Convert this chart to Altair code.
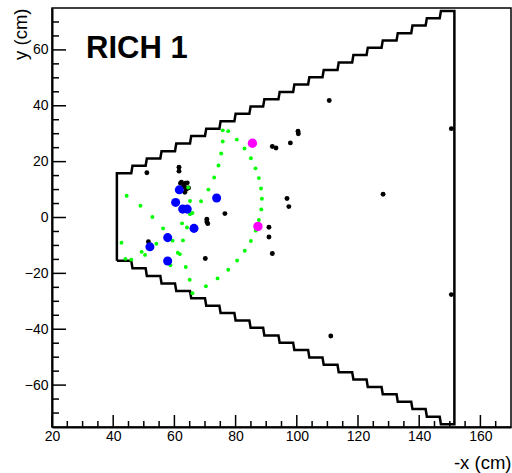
import altair as alt
import pandas as pd

# ---------------- data ----------------
X_DOMAIN = [20, 170]
Y_DOMAIN = [-75, 75]

black_x = [110.6, 100.4, 100.5, 97.9, 92.0, 93.2, 96.8, 97.4, 128.2, 150.5, 150.5, 111.1,
           90.9, 90.9, 92.0, 76.5, 70.1, 70.6, 70.9, 70.6, 51.0, 61.5, 61.5, 62.0, 63.6,
           62.6, 63.9, 61.7, 51.5, 62.3, 64.2, 63.2, 64.6, 62.0, 63.4]
black_y = [41.9, 30.9, 30.0, 26.7, 25.4, 24.9, 6.8, 3.9, 8.3, 31.8, -27.6, -42.4,
           -3.5, -7.0, -12.9, 1.4, -14.7, -0.6, -2.2, -1.5, 16.0, 18.0, 16.6, 12.3, 12.3,
           10.8, 10.1, 10.1, -8.7, 12.6, 12.4, 11.4, 10.6, 9.6, 9.0]

green_x = [75.8, 77.6, 80.4, 82.9, 85.0, 86.5, 87.6, 88.3, 88.6, 88.4, 87.6, 86.6, 85.0,
           83.0, 80.5, 77.6, 74.1, 70.3, 65.9, 75.8, 75.3, 74.4, 73.0, 71.1, 68.7, 65.1,
           64.5, 44.4, 48.9, 52.8, 56.3, 59.4, 62.8, 62.5, 64.1, 65.1, 65.9, 42.7, 44.0,
           45.9, 49.3, 50.4, 54.1, 61.1, 61.8, 58.7, 63.7, 65.0]
green_y = [31.2, 30.9, 27.9, 24.7, 21.2, 17.6, 14.1, 10.4, 6.7, 2.9, -0.9, -4.7, -8.4,
           -11.9, -15.4, -18.7, -21.8, -24.6, -27.1, 27.2, 22.9, 18.6, 14.3, 10.0, 5.8, 5.9,
           10.7, 7.8, 4.2, 0.2, -3.9, -8.3, -8.2, -2.1, -3.6, 1.2, 1.6, -9.0, -14.8,
           -15.1, -12.3, -13.4, -9.4, -12.6, -13.1, -17.1, -17.7, -22.3]

blue_x = [61.6, 60.4, 62.7, 64.2, 73.8, 66.4, 57.8, 52.0, 57.8]
blue_y = [9.9, 5.4, 3.0, 3.0, 7.0, -3.9, -7.2, -10.5, -15.6]

magenta_x = [85.5, 87.3]
magenta_y = [26.6, -3.2]

# detector outline (staircase)
step_edges_x = [41.2, 45.9, 50.6, 55.4, 60.2, 65.1, 70.0, 74.7, 79.6, 84.5, 89.0, 94.0,
                98.8, 103.7, 108.4, 113.3, 118.1, 122.8, 127.7, 132.6, 137.4, 142.1,
                146.7, 151.5]
top_levels = [15.8, 18.5, 21.1, 23.7, 26.5, 29.2, 31.8, 34.5, 37.1, 39.7, 42.3, 44.9,
              47.6, 50.2, 52.8, 55.5, 58.2, 60.8, 63.4, 66.0, 68.7, 71.3, 73.9]
bottom_levels = [-15.5, -18.2, -20.9, -23.6, -26.3, -28.9, -31.6, -34.2, -36.9, -39.5,
                 -42.2, -44.8, -47.4, -50.1, -52.7, -55.4, -58.0, -60.7, -63.3, -66.0,
                 -68.6, -71.3, -74.0]

x_major = [20, 40, 60, 80, 100, 120, 140, 160]
x_minor = [v for v in range(25, 170, 5) if v % 20 != 0]
y_major = [-60, -40, -20, 0, 20, 40, 60]
y_minor = [v for v in range(-70, 75, 5) if v % 20 != 0]

# ---------------- build tables ----------------
RISER_SLANT = 0.4
pts = [(step_edges_x[0], bottom_levels[0]), (step_edges_x[0], top_levels[0])]
for i in range(1, len(top_levels)):
    pts.append((step_edges_x[i], top_levels[i - 1]))
    pts.append((step_edges_x[i] + RISER_SLANT, top_levels[i]))
pts.append((step_edges_x[-1], top_levels[-1]))
pts.append((step_edges_x[-1], bottom_levels[-1]))
for i in range(len(bottom_levels) - 1, 0, -1):
    pts.append((step_edges_x[i] + RISER_SLANT, bottom_levels[i]))
    pts.append((step_edges_x[i], bottom_levels[i - 1]))
pts.append((step_edges_x[0], bottom_levels[0]))
outline = pd.DataFrame({"x": [p[0] for p in pts], "y": [p[1] for p in pts],
                        "o": list(range(len(pts)))})

W, H = 459, 419
FONT = "Liberation Sans"

xs = alt.Scale(domain=X_DOMAIN, nice=False, zero=False)
ys = alt.Scale(domain=Y_DOMAIN, nice=False, zero=False)

xaxis = alt.Axis(values=x_major, ticks=False, grid=False, domain=True, domainColor="black",
                 domainWidth=2, labelFont=FONT, labelFontSize=14, labelColor="black",
                 labelPadding=2, labelFlush=False, labelOverlap=False, format="d",
                 title="-x (cm)", titleFont=FONT, titleFontSize=18.5,
                 titleFontWeight="normal", titleColor="black", titleAlign="right",
                 titleBaseline="alphabetic", titleX=W, titleY=41.5)
yaxis = alt.Axis(values=y_major, ticks=False, grid=False, domain=True, domainColor="black",
                 domainWidth=2, labelFont=FONT, labelFontSize=14, labelColor="black",
                 labelPadding=4, labelFlush=False, labelOverlap=False, format="d",
                 title="y (cm)", titleFont=FONT, titleFontSize=18.5,
                 titleFontWeight="normal", titleColor="black", titleAngle=-90,
                 titleAlign="right", titleBaseline="top", titleX=-41, titleY=0)


def X(f):
    return alt.X(f, type="quantitative", scale=xs, axis=xaxis)


def Y(f):
    return alt.Y(f, type="quantitative", scale=ys, axis=yaxis)


outline_layer = alt.Chart(outline).mark_line(color="black", strokeWidth=2.5,
                                             strokeJoin="miter").encode(
    x=X("x"), y=Y("y"), order="o:Q")


def dots(xv, yv, color, size):
    return alt.Chart(pd.DataFrame({"x": xv, "y": yv})).mark_circle(
        color=color, opacity=1, size=size).encode(x=X("x"), y=Y("y"))


black_layer = dots(black_x, black_y, "black", 24)
green_layer = dots(green_x, green_y, "#00ff00", 15)
blue_layer = dots(blue_x, blue_y, "#0000ff", 82)
magenta_layer = dots(magenta_x, magenta_y, "#ff00ff", 88)

xmaj = alt.Chart(pd.DataFrame({"v": x_major})).mark_rule(color="black", strokeWidth=1.5).encode(
    x=X("v"), y=alt.value(H), y2=alt.value(H - 12))
xmin = alt.Chart(pd.DataFrame({"v": x_minor})).mark_rule(color="black", strokeWidth=1.5).encode(
    x=X("v"), y=alt.value(H), y2=alt.value(H - 6))
ymaj = alt.Chart(pd.DataFrame({"v": y_major})).mark_rule(color="black", strokeWidth=1.5).encode(
    y=Y("v"), x=alt.value(0), x2=alt.value(14))
ymin = alt.Chart(pd.DataFrame({"v": y_minor})).mark_rule(color="black", strokeWidth=1.5).encode(
    y=Y("v"), x=alt.value(0), x2=alt.value(7))

label = alt.Chart(pd.DataFrame({"t": ["RICH 1"]})).mark_text(
    font=FONT, fontSize=31, fontWeight="bold", color="black", align="left",
    baseline="alphabetic").encode(text="t:N", x=alt.value(34), y=alt.value(50))

chart = alt.layer(outline_layer, black_layer, green_layer, blue_layer, magenta_layer,
                  xmaj, xmin, ymaj, ymin, label).properties(
    width=W, height=H,
    autosize=alt.AutoSizeParams(type="none"),
    padding={"left": 52, "top": 8, "right": 1, "bottom": 46},
    background="white",
).configure_view(stroke="black", strokeWidth=1.5)

chart.save("out.html", embed_options={"renderer": "svg", "actions": False})
